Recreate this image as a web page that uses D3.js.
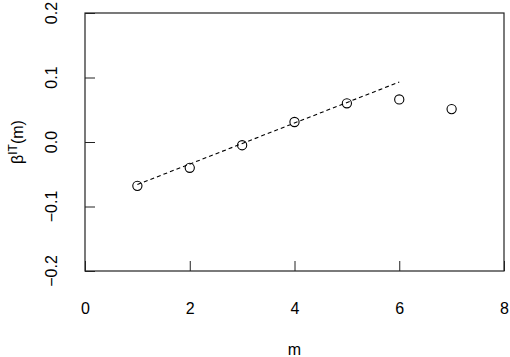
<!DOCTYPE html>
<html>
<head>
<meta charset="utf-8">
<script src="https://cdn.jsdelivr.net/npm/d3@7"></script>
<style>
  body { margin: 0; background: #fff; }
  svg { display: block; font-family: "Liberation Sans", Arial, sans-serif; }
</style>
</head>
<body>
<div id="chart"></div>
<script>
// Data
const mValues = [1, 2, 3, 4, 5, 6, 7];
const betaValues = [-0.068, -0.040, -0.005, 0.031, 0.060, 0.066, 0.051];
const fitX = [1, 6];
const fitY = [-0.066, 0.093];
const xTicks = [0, 2, 4, 6, 8];
const yTicks = [-0.2, -0.1, 0.0, 0.1, 0.2];

// Layout
const width = 510;
const height = 357;
const marginTop = 13;
const marginRight = 6;
const marginBottom = 86;
const marginLeft = 85;
const tickLen = 10;
const fontSize = 16;

const x = d3.scaleLinear([0, 8], [marginLeft, width - marginRight]);
const y = d3.scaleLinear([-0.2, 0.2], [height - marginBottom, marginTop]);

const svg = d3.select("#chart").append("svg")
  .attr("width", width)
  .attr("height", height)
  .attr("viewBox", [0, 0, width, height]);

// Axes (ticks point inward)
svg.append("g")
  .attr("transform", `translate(0,${height - marginBottom})`)
  .call(d3.axisBottom(x).tickValues(xTicks).tickFormat(d3.format("d"))
    .tickSize(-tickLen).tickPadding(tickLen + 22).tickSizeOuter(0))
  .call(g => g.select(".domain").remove())
  .call(g => g.selectAll(".tick line").attr("stroke", "#222"))
  .call(g => g.selectAll(".tick text")
    .attr("font-size", fontSize).attr("font-family", null).attr("fill", "#000"));

svg.append("g")
  .attr("transform", `translate(${marginLeft},0)`)
  .call(d3.axisLeft(y).tickValues(yTicks).tickFormat(d3.format(".1f"))
    .tickSize(-tickLen).tickSizeOuter(0))
  .call(g => g.select(".domain").remove())
  .call(g => g.selectAll(".tick line").attr("stroke", "#222"))
  .call(g => g.selectAll(".tick text").remove());

// y tick labels, rotated like R
svg.append("g")
  .selectAll("text")
  .data(yTicks)
  .join("text")
    .attr("transform", d => `translate(${marginLeft - 28},${y(d)}) rotate(-90)`)
    .attr("text-anchor", "middle")
    .attr("font-size", fontSize)
    .text(d => d3.format(".1f")(d).replace("-", "\u2212"));

// plot box
svg.append("rect")
  .attr("x", marginLeft)
  .attr("y", marginTop)
  .attr("width", width - marginRight - marginLeft)
  .attr("height", height - marginBottom - marginTop)
  .attr("fill", "none")
  .attr("stroke", "#222")
  .attr("stroke-width", 1.2);

// fit line
svg.append("path")
  .datum(d3.zip(fitX, fitY))
  .attr("fill", "none")
  .attr("stroke", "#000")
  .attr("stroke-width", 1.1)
  .attr("stroke-dasharray", "4,3")
  .attr("d", d3.line(d => x(d[0]), d => y(d[1])));

// points
svg.append("g")
  .selectAll("circle")
  .data(d3.zip(mValues, betaValues))
  .join("circle")
    .attr("cx", d => x(d[0]))
    .attr("cy", d => y(d[1]))
    .attr("r", 4.6)
    .attr("fill", "none")
    .attr("stroke", "#000")
    .attr("stroke-width", 1.1);

// axis titles
svg.append("text")
  .attr("x", (marginLeft + width - marginRight) / 2)
  .attr("y", 355)
  .attr("text-anchor", "middle")
  .attr("font-size", fontSize)
  .text("m");

const yt = svg.append("text")
  .attr("transform", `translate(23,${(marginTop + height - marginBottom) / 2}) rotate(-90)`)
  .attr("text-anchor", "middle")
  .attr("font-size", fontSize);
yt.append("tspan").text("\u03b2");
yt.append("tspan").attr("dy", -6).attr("font-size", 12).text("IT");
yt.append("tspan").attr("dy", 6).text("(m)");
</script>
</body>
</html>
